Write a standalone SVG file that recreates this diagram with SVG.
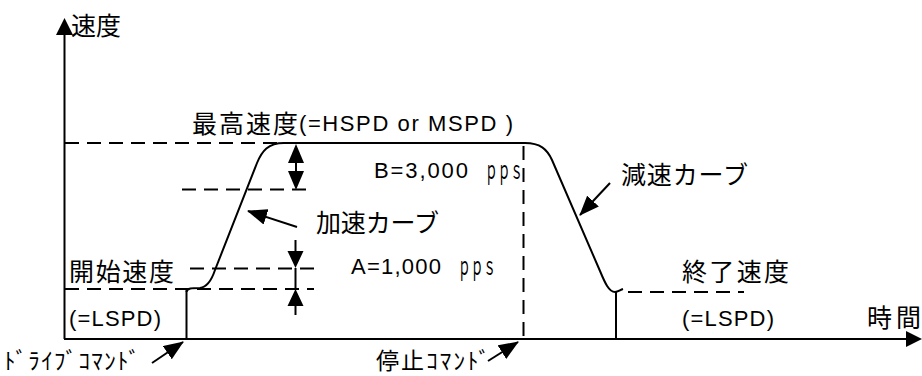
<svg xmlns="http://www.w3.org/2000/svg" width="922" height="376" viewBox="0 0 922 376">
<style>
.t{font-family:"Liberation Sans","Noto Sans CJK JP",sans-serif;font-size:22px;fill:#000}
.c{font-family:"Noto Sans CJK JP",sans-serif;font-size:25px;fill:#000}
.j{font-family:"Noto Sans CJK JP",sans-serif;font-size:23px;fill:#000}
.p{font-family:"Noto Sans CJK JP",sans-serif;font-size:26px;fill:#000}
.ln{stroke:#000;stroke-width:2;fill:none}
.ds{stroke:#000;stroke-width:2;fill:none;stroke-dasharray:14 8}
.ah{fill:#000;stroke:none}
</style>
<defs>
<marker id="arr" markerUnits="userSpaceOnUse" markerWidth="20" markerHeight="16" refX="19" refY="8" orient="auto">
<path d="M0,0 L20,8 L0,16 z" fill="#000"/>
</marker>
</defs>
<rect width="922" height="376" fill="#fff"/>
<g id="axes">
<line class="ln" x1="64.5" y1="339" x2="64.5" y2="30"/>
<polygon class="ah" points="64.5,18 56,35 73,35"/>
<line class="ln" x1="64" y1="339" x2="910" y2="339"/>
<polygon class="ah" points="922,339 906,331 906,347"/>
</g>
<g id="guides">
<line class="ds" x1="65" y1="143" x2="282" y2="143"/>
<line class="ds" x1="182" y1="189.5" x2="310" y2="189.5"/>
<line class="ds" x1="190" y1="268.5" x2="316" y2="268.5"/>
<line class="ds" x1="65" y1="289" x2="314" y2="289"/>
<line class="ds" x1="628" y1="292" x2="744" y2="292"/>
<line class="ds" x1="523.5" y1="146" x2="523.5" y2="339"/>
</g>
<g id="profile">
<path class="ln" d="M186.5,292 C187,288 192,288 200,288 C208,287 212,279 215,270 L257,163 C262,151 268,143 284,143 L525,143 C540,143 547,149 552,160 L600,271 C605,283 609,292 615,292 C618,292 620,290 623,289"/>
<line class="ln" x1="186.5" y1="289" x2="186.5" y2="339"/>
<line class="ln" x1="616" y1="291" x2="616" y2="339"/>
</g>
<g id="dims">
<line class="ln" x1="296" y1="160" x2="296" y2="174"/>
<polygon class="ah" points="296,144 288,163 304,163"/>
<polygon class="ah" points="296,190 288,171 304,171"/>
<line class="ln" x1="295.5" y1="240" x2="295.5" y2="254"/>
<polygon class="ah" points="295.5,268 287.5,251 303.5,251"/>
<line class="ln" x1="295.5" y1="268" x2="295.5" y2="289"/>
<polygon class="ah" points="295.5,289 287.5,306 303.5,306"/>
<line class="ln" x1="295.5" y1="304" x2="295.5" y2="315"/>
</g>
<g id="connectors">
<line class="ln" x1="297" y1="227" x2="248" y2="211" marker-end="url(#arr)"/>
<line class="ln" x1="610" y1="183" x2="580" y2="215" marker-end="url(#arr)"/>
<line class="ln" x1="152" y1="363" x2="183" y2="342" marker-end="url(#arr)"/>
<line class="ln" x1="488" y1="361" x2="518" y2="342" marker-end="url(#arr)"/>
</g>
<g id="labels">
<text class="c" x="71" y="35">速度</text>
<text class="c" x="192" y="133" textLength="106">最高速度</text>
<text class="t" x="299" y="131" textLength="214">(=HSPD or MSPD )</text>
<text class="t" x="374" y="178" textLength="94">B=3,000</text>
<text class="p" x="485" y="179" textLength="38" lengthAdjust="spacingAndGlyphs">ｐｐｓ</text>
<text class="c" x="316" y="232" textLength="123">加速カーブ</text>
<text class="c" x="621" y="184" textLength="127">減速カーブ</text>
<text class="c" x="69" y="281" textLength="105">開始速度</text>
<text class="t" x="351" y="274" textLength="90">A=1,000</text>
<text class="p" x="458" y="275" textLength="38" lengthAdjust="spacingAndGlyphs">ｐｐｓ</text>
<text class="c" x="682" y="281" textLength="107">終了速度</text>
<text class="t" x="69" y="326" textLength="92">(=LSPD)</text>
<text class="t" x="682" y="326" textLength="92">(=LSPD)</text>
<text class="c" x="867" y="327" textLength="54">時間</text>
<text class="j" x="4" y="369" textLength="136">ﾄﾞﾗｲﾌﾞｺﾏﾝﾄﾞ</text>
<text class="j" x="376" y="369" textLength="114">停止ｺﾏﾝﾄﾞ</text>
</g>
</svg>
